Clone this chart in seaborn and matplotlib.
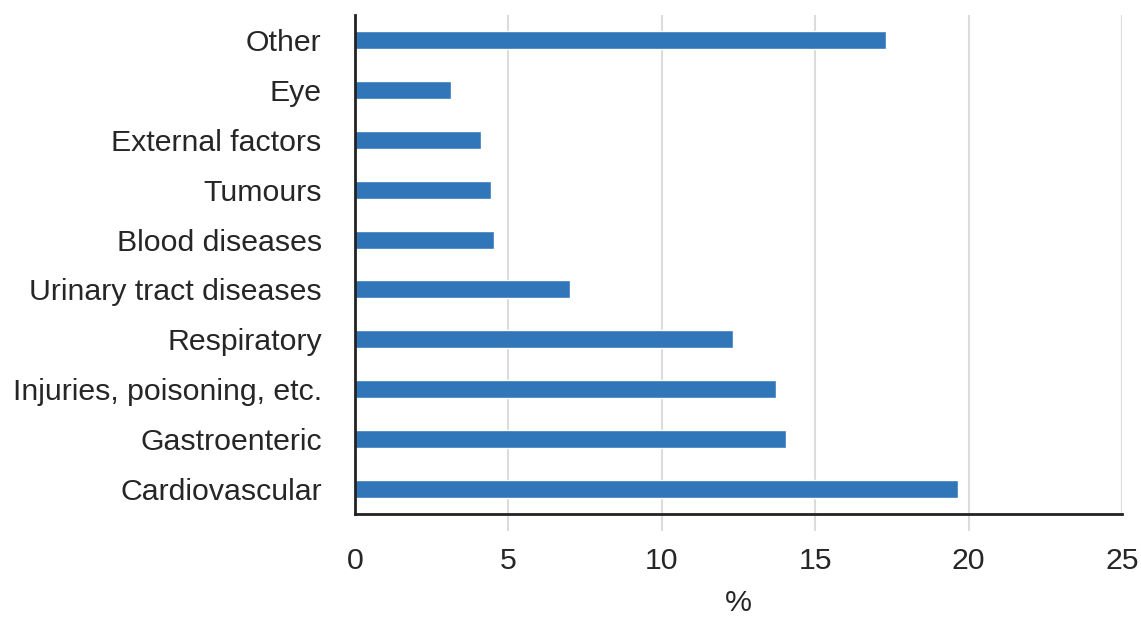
import matplotlib
matplotlib.use("Agg")
import matplotlib.pyplot as plt
import seaborn as sns
import pandas as pd

categories = ["Other", "Eye", "External factors", "Tumours", "Blood diseases",
              "Urinary tract diseases", "Respiratory", "Injuries, poisoning, etc.",
              "Gastroenteric", "Cardiovascular"]
values = [17.3, 3.13, 4.1, 4.43, 4.53, 7.0, 12.32, 13.72, 14.05, 19.65]
xticks = [0, 5, 10, 15, 20, 25]
xlabel = "%"

sns.set_theme(style="white")
plt.rcParams['font.family'] = ['Liberation Sans', 'DejaVu Sans']

df = pd.DataFrame({"cat": categories, "val": values})

fig = plt.figure(figsize=(11.41, 6.18), dpi=100)
ax = fig.add_axes([355/1141, 1 - 514/618, (1122 - 355)/1141, (514 - 15)/618])

sns.barplot(data=df, x="val", y="cat", orient="h", color="#3176b8",
            saturation=1, width=0.36, ax=ax, zorder=3)

fs = 21.8
ax.set_xlim(0, 25)
ax.set_xticks(xticks)
ax.set_xticklabels([str(t) for t in xticks])
ax.set_xlabel(xlabel, fontsize=fs, color="#262626", labelpad=10)
ax.set_ylabel("")
ax.grid(axis="x", color="#dcdcdc", linewidth=1.5, zorder=0)
ax.set_axisbelow(True)

for s in ["top", "right"]:
    ax.spines[s].set_visible(False)
for s in ["left", "bottom"]:
    ax.spines[s].set_color("#222222")
    ax.spines[s].set_linewidth(2)
    ax.spines[s].set_zorder(4)

ax.tick_params(axis="x", bottom=True, length=12, width=1.5, color="#dcdcdc",
               labelsize=fs, labelcolor="#262626", pad=12)
ax.tick_params(axis="y", left=False, labelsize=fs, labelcolor="#262626", pad=18)

xt = ax.xaxis.get_major_ticks()
xt[0].tick1line.set_visible(False)
xt[-1].tick1line.set_visible(False)

fig.savefig("out.png", dpi=100)
